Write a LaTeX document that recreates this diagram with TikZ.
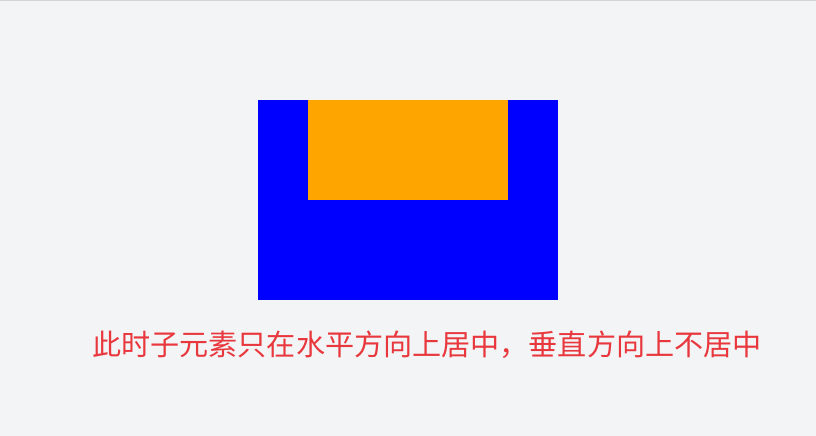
\documentclass[tikz,border=0pt]{standalone}
\usepackage{fontspec}
\newfontfamily\cjk{Noto Sans CJK SC}
\usepackage{tikz}
\usetikzlibrary{positioning}
\definecolor{fondoPagina}{HTML}{F3F4F6}
\definecolor{lineaSuperior}{HTML}{D3D4D6}
\definecolor{azulPadre}{HTML}{0000FF}
\definecolor{naranjaHijo}{HTML}{FFA500}
\definecolor{rojoTexto}{HTML}{E8383D}

\begin{document}
\begin{tikzpicture}[
    x=1pt, y=1pt,
    padre/.style={rectangle, fill=azulPadre, minimum width=300pt, minimum height=200pt, inner sep=0pt},
    hijo/.style={rectangle, fill=naranjaHijo, minimum width=200pt, minimum height=100pt, inner sep=0pt},
    nota/.style={font=\cjk\fontsize{29.1}{33}\selectfont, text=rojoTexto, inner sep=0pt}
  ]
  % Fondo de la pagina
  \fill[fondoPagina] (0,0) rectangle (816,436);
  \useasboundingbox (0,0) rectangle (816,436);
  \fill[lineaSuperior] (0,434.7) rectangle (816,436);

  % Contenedor y elemento hijo
  \node[padre] (padre) at (408,236) {};
  \node[hijo, anchor=north] (hijo) at (padre.north) {};

  % Texto explicativo
  \node[nota] (nota) at (427,91) {此时子元素只在水平方向上居中，垂直方向上不居中};
\end{tikzpicture}
\end{document}
